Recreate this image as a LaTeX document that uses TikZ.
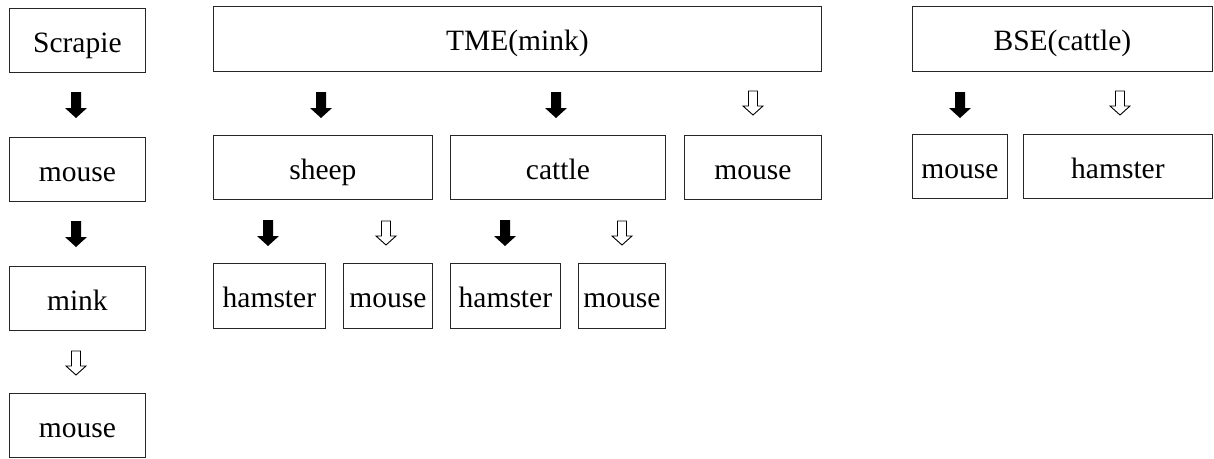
\documentclass[tikz,border=0pt]{standalone}
\usepackage{fontspec}
\setmainfont{Liberation Serif}
\begin{document}
\begin{tikzpicture}[x=1pt,y=-1pt,
  box/.style={draw=black!85, line width=0.8pt, anchor=north west, inner sep=0pt,
    text height=25pt, text depth=1pt,
    font=\fontsize{29.5}{32}\selectfont},
  pics/fullarrow/.style={code={
    \fill[black] (-5,0) -- (5,0) -- (5,16) -- (11,16) -- (0,26) -- (-11,16) -- (-5,16) -- cycle;}},
  pics/openarrow/.style={code={
    \draw[black, line width=0.9pt, fill=white, line join=miter] (-4.5,0) -- (4.5,0) -- (4.5,15) -- (10,15) -- (0,24) -- (-10,15) -- (-4.5,15) -- cycle;}}
]
\useasboundingbox (0,0) rectangle (1214,458);
% left column
\node[box, minimum width=136pt, minimum height=64pt] (scrapie) at (9,8) {Scrapie};
\node[box, minimum width=136pt, minimum height=64pt] (m1) at (9,137) {mouse};
\node[box, minimum width=136pt, minimum height=64pt] (mink) at (9,266) {mink};
\node[box, minimum width=136pt, minimum height=64pt] (m2) at (9,393) {mouse};
\pic (a1) at (76,92) {fullarrow};
\pic (a2) at (76,221) {fullarrow};
\pic (a3) at (76,351) {openarrow};
% TME
\node[box, minimum width=608pt, minimum height=65pt] (tme) at (213,6) {TME(mink)};
\node[box, minimum width=219pt, minimum height=64pt] (sheep) at (213,135) {sheep};
\node[box, minimum width=215pt, minimum height=64pt] (cattle) at (450,135) {cattle};
\node[box, minimum width=137pt, minimum height=64pt] (tmouse) at (684,135) {mouse};
\pic (a4) at (321,92) {fullarrow};
\pic (a5) at (556,92) {fullarrow};
\pic (a6) at (753,91) {openarrow};
\node[box, minimum width=112pt, minimum height=65pt] (h1) at (213,263) {hamster};
\node[box, minimum width=89pt, minimum height=65pt] (mo1) at (343,263) {mouse};
\node[box, minimum width=110pt, minimum height=65pt] (h2) at (450,263) {hamster};
\node[box, minimum width=87pt, minimum height=65pt] (mo2) at (578,263) {mouse};
\pic (a7) at (268,220) {fullarrow};
\pic (a8) at (386,221) {openarrow};
\pic (a9) at (505,220) {fullarrow};
\pic (a10) at (622,221) {openarrow};
% BSE
\node[box, minimum width=300pt, minimum height=65pt] (bse) at (912,6) {BSE(cattle)};
\node[box, minimum width=95pt, minimum height=64pt] (bmouse) at (912,134) {mouse};
\node[box, minimum width=189pt, minimum height=64pt] (bham) at (1023,134) {hamster};
\pic (a11) at (960,92) {fullarrow};
\pic (a12) at (1120,91) {openarrow};
\end{tikzpicture}
\end{document}
